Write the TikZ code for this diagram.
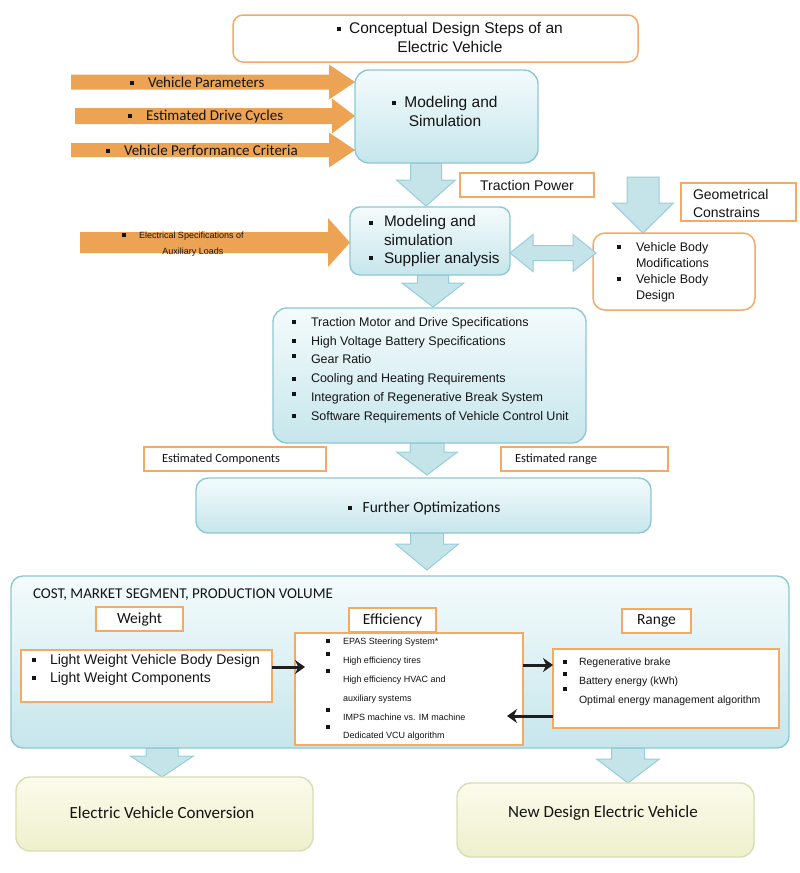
\documentclass[tikz,border=0pt]{standalone}
\usepackage{fontspec}
\setmainfont{Liberation Sans}
\newfontfamily\carl{Carlito}
\usetikzlibrary{arrows.meta}
\definecolor{orfill}{RGB}{236,164,84}
\definecolor{orbd}{RGB}{245,170,100}
\definecolor{bluebd}{RGB}{142,200,210}
\definecolor{bluetop}{RGB}{244,251,252}
\definecolor{bluebot}{RGB}{198,230,236}
\definecolor{arrfill}{RGB}{196,228,234}
\definecolor{arrbd}{RGB}{150,205,215}
\definecolor{ylwtop}{RGB}{251,251,236}
\definecolor{ylwbot}{RGB}{238,240,204}
\definecolor{ylwbd}{RGB}{216,222,178}
\definecolor{txt}{RGB}{20,20,20}
\definecolor{blkc}{RGB}{30,30,30}
\newlength\bsz
\setlength\bsz{4pt}
\newcommand\bsq{\raisebox{0.3ex}{\rule{\bsz}{\bsz}}}
\newcommand\bitem[2][0pt]{\makebox[#2][l]{\raisebox{#1}{\bsq}}}
% fat down arrow: #1 top point, #2 body half, #3 head half, #4 head base offset, #5 tip offset
\newcommand\FatDown[5]{\filldraw[barrow,shift={#1}] (-#2,0) -- (#2,0) -- (#2,#4) -- (#3,#4) -- (0,#5) -- (-#3,#4) -- (-#2,#4) -- cycle;}
% fat right arrow: #1 tip point, #2 length, #3 body half, #4 head half, #5 head length
\newcommand\FatRight[5]{\fill[oarrow,shift={#1}] (0,0) -- (-#5,-#4) -- (-#5,-#3) -- (-#2,-#3) -- (-#2,#3) -- (-#5,#3) -- (-#5,#4) -- cycle;}
\begin{document}
\begin{tikzpicture}[x=1pt,y=-1pt,
  every node/.style={text=txt, inner sep=0pt, outer sep=0pt},
  obox/.style={draw=orbd, line width=1.5pt, fill=white, anchor=north west},
  bbox/.style={draw=bluebd, line width=1.4pt, top color=bluetop, bottom color=bluebot, anchor=north west},
  ybox/.style={draw=ylwbd, line width=1.4pt, top color=ylwtop, bottom color=ylwbot, anchor=north west, rounded corners=14pt},
  barrow/.style={fill=arrfill, draw=arrbd, line width=1pt, line join=miter},
  oarrow/.style={fill=orfill},
  blk/.style={draw=blkc, line width=3pt, -{Stealth[length=10pt,width=14pt]}},
  fA/.style={font=\fontsize{#1}{#1}\selectfont},
  fC/.style={font=\carl\fontsize{#1}{#1}\selectfont}]
\useasboundingbox (0,0) rectangle (800,873);

% ---------- boxes that the block arrows start from (invisible reference nodes) ----------
\coordinate (geotop) at (643,177);
\node[anchor=north west, minimum width=183pt, minimum height=93pt] (box1) at (355,70) {};
\node[anchor=north west, minimum width=160pt, minimum height=68pt] (box2) at (350,207) {};
\node[anchor=north west, minimum width=313pt, minimum height=135pt] (box3) at (273,308) {};
\node[anchor=north west, minimum width=455pt, minimum height=55pt] (box4) at (196,478) {};
\node[anchor=north west, minimum width=778pt, minimum height=172pt] (big) at (11,576) {};

% ---------- block arrows (drawn first, under boxes) ----------
\FatDown{(426,0 |- box1.south)}{15.5}{29.5}{17}{43}
\FatDown{(geotop)}{16}{30.5}{26}{56}
\FatDown{(433,0 |- box2.south)}{15.5}{31}{8}{32}
\FatDown{(427,0 |- box3.south)}{17}{30.5}{9}{32}
\FatDown{(427,0 |- box4.south)}{16.5}{31.5}{11}{37}
\FatDown{(162,0 |- big.south)}{16}{31.5}{8}{29}
\FatDown{(628,0 |- big.south)}{16.5}{31.5}{11}{35}

\FatRight{(box1.west |- 0,82)}{284}{7.5}{17.5}{26}
\FatRight{(box1.west |- 0,116)}{280}{8}{17.5}{23}
\FatRight{(box1.west |- 0,150)}{284}{7}{17.5}{26}
\FatRight{(box2.west |- 0,242.5)}{270}{10.5}{24.5}{22}

% ---------- boxes ----------
\node[obox, rounded corners=10pt, minimum width=405pt, minimum height=47pt] (title) at (233,15) {};
\node[bbox, rounded corners=14pt, minimum width=183pt, minimum height=93pt] (box1v) at (355,70) {};
\node[obox, minimum width=134pt, minimum height=24pt, fA=14] (tp) at (460,173) {Traction Power};
\node[obox, minimum width=115pt, minimum height=38pt] (geo) at (681,183) {};
\node[bbox, rounded corners=10pt, minimum width=160pt, minimum height=68pt] (box2v) at (350,207) {};
\node[obox, rounded corners=12pt, minimum width=162pt, minimum height=77pt] (body) at (593,233) {};
\node[bbox, rounded corners=14pt, minimum width=313pt, minimum height=135pt] (box3v) at (273,308) {};
\node[obox, minimum width=182pt, minimum height=24pt] (estc) at (144,447) {};
\node[obox, minimum width=167pt, minimum height=24pt] (estr) at (501,447) {};
\node[bbox, rounded corners=12pt, minimum width=455pt, minimum height=55pt] (box4v) at (196,478) {};
\node[bbox, rounded corners=12pt, minimum width=778pt, minimum height=172pt] (bigv) at (11,576) {};
\node[obox, minimum width=87pt, minimum height=24pt, fC=15.5] (wt) at (96,607) {Weight};
\node[obox, minimum width=87pt, minimum height=24pt, fC=15.5] (eff) at (349,608) {Efficiency};
\node[obox, minimum width=69pt, minimum height=24pt, fC=15.5] (rng) at (622,609) {Range};
\node[obox, minimum width=251pt, minimum height=52pt] (lw) at (21,650) {};
\node[obox, minimum width=228pt, minimum height=112pt] (mid) at (295,633) {};
\node[obox, minimum width=226pt, minimum height=79pt] (rt) at (553,649) {};
\node[ybox, minimum width=297pt, minimum height=74pt] (ev) at (16,777) {};
\node[ybox, minimum width=297pt, minimum height=74pt] (nd) at (457,783) {};

% double arrow between box2 and body
\filldraw[barrow, shift={(box2.east |- 0,253)}] (0,0) -- (23,-18.5) -- (23,-7.5) -- (63,-7.5) -- (63,-18.5) -- (86,0) -- (63,18.5) -- (63,7.5) -- (23,7.5) -- (23,18.5) -- cycle;

% ---------- texts ----------
\node[align=center, font=\fontsize{15.5}{19}\selectfont] (titlet) at (450,37.5) {\bsq\hspace{8pt}Conceptual Design Steps of an\\Electric Vehicle};
\node[align=center, font=\fontsize{15.5}{19}\selectfont] (box1t) at (445,111.5) {\bsq\hspace{8pt}Modeling and\\Simulation};
\node[anchor=west, align=left, font=\fontsize{14}{18}\selectfont] (geot) at (693,203) {Geometrical\\Constrains};
\node[anchor=west, align=left, font=\fontsize{15.3}{18.5}\selectfont] (box2t) at (369,241.5) {\bitem{15pt}Modeling and\\\hspace*{15pt}simulation\\\bitem[2pt]{15pt}Supplier analysis};
\node[anchor=west, align=left, font=\fontsize{12.5}{16}\selectfont] (bodyt) at (617,272) {\bitem{19pt}Vehicle Body\\\hspace*{19pt}Modifications\\\bitem{19pt}Vehicle Body\\\hspace*{19pt}Design};
\node[anchor=west, align=left, font=\fontsize{12.5}{18.8}\selectfont] (box3t) at (292,370) {\bitem{19pt}Traction Motor and Drive Specifications\\\bitem{19pt}High Voltage Battery Specifications\\\bitem[4pt]{19pt}Gear Ratio\\\bitem{19pt}Cooling and Heating Requirements\\\bitem[3pt]{19pt}Integration of Regenerative Break System\\\bitem{19pt}Software Requirements of Vehicle Control Unit};
\node[anchor=west, fC=12.5] (estct) at (162,459) {Estimated Components};
\node[anchor=west, fC=12.5] (estrt) at (515,459) {Estimated range};
\node[fC=15.5] (box4t) at (424,508) {\bsq\hspace{11pt}Further Optimizations};

\node[anchor=west, fC=15] (vpt) at (130,82) {\bitem{18pt}Vehicle Parameters};
\node[anchor=west, fC=15] (edct) at (128,116) {\bitem{18pt}Estimated Drive Cycles};
\node[anchor=west, fC=15] (vpct) at (106,150) {\bitem{18pt}Vehicle Performance Criteria};
\node[anchor=west, fA=9] (el1) at (122,236) {\bitem{17pt}Electrical Specifications of};
\node[fA=9] (el2) at (193,252) {Auxiliary Loads};

\node[anchor=west, fC=15] (costt) at (33,595) {COST, MARKET SEGMENT, PRODUCTION VOLUME};
\node[anchor=west, align=left, font=\fontsize{14}{18}\selectfont] (lwt) at (32,670) {\bitem{18pt}Light Weight Vehicle Body Design\\\bitem{18pt}Light Weight Components};
\node[anchor=west, align=left, font=\fontsize{9}{18.8}\selectfont] (midt) at (326,689.5) {\bitem{17pt}EPAS Steering System*\\\bitem[6pt]{17pt}High efficiency tires\\\bitem[8pt]{17pt}High efficiency HVAC and\\\hspace*{17pt}auxiliary systems\\\bitem[7pt]{17pt}IMPS machine vs. IM machine\\\bitem[8pt]{17pt}Dedicated VCU algorithm};
\node[anchor=west, align=left, font=\fontsize{10.5}{19}\selectfont] (rtt) at (563,682) {\bitem{16pt}Regenerative brake\\\bitem[7pt]{16pt}Battery energy (kWh)\\\bitem[11pt]{16pt}Optimal energy management algorithm};

\node[fC=17] (evt) at (162,813) {Electric Vehicle Conversion};
\node[fC=17] (ndt) at (603,813) {New Design Electric Vehicle};

% ---------- black arrows ----------
\draw[blk, shorten >=-10pt] (lw.east |- 0,667) -- (mid.west |- 0,667);
\draw[blk] (mid.east |- 0,665) -- (rt.west |- 0,665);
\draw[blk, shorten >=-16pt] (rt.west |- 0,716) -- (mid.east |- 0,716);
\end{tikzpicture}
\end{document}
